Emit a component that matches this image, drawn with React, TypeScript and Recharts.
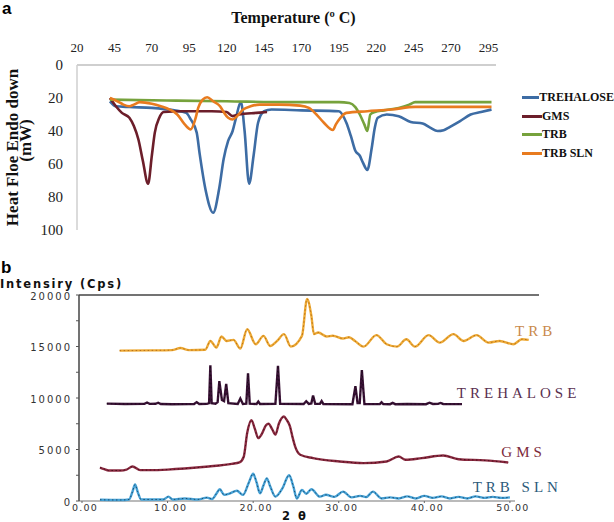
import React from 'react'
import { LineChart, Line, XAxis, YAxis, Legend, Label, ReferenceLine, ReferenceDot } from 'recharts'

// ---- panel a: DSC thermograms (temperature in °C, heat flow in mW, endo down)
const dscTicksX = [20, 45, 70, 95, 120, 145, 170, 195, 220, 245, 270, 295]
const dscTicksY = [0, 20, 40, 60, 80, 100]

const dscTrehalose: [number, number][] = [
  [42, 22], [46, 25], [55, 25.5], [70, 26], [85, 27.5], [93, 29], [96, 33], [100, 41],
  [102, 54], [106, 76], [111, 89.5], [115, 75], [118, 57], [121, 46], [124, 40], [126, 33],
  [129.5, 22.5], [132, 40], [135, 72], [138, 55], [141, 35], [145, 28], [150, 27], [170, 27.5],
  [195, 28], [200, 35], [203, 43], [206, 52], [209, 55], [211, 59], [214, 63.6], [217, 50],
  [219, 38], [221, 32], [227, 30], [235, 31], [243, 34.5], [251, 35.5], [256, 38], [261, 40],
  [265, 39.5], [269, 37.6], [276, 34], [283, 30], [290, 28.5], [297, 27],
]
const dscGms: [number, number][] = [
  [42, 20], [46, 25], [50, 29], [55, 32], [58, 37], [61, 45], [64, 58], [67.5, 72], [70, 55],
  [72, 41], [75, 32], [78, 28.5], [90, 28], [110, 28], [120, 28.5], [124, 31], [128, 30],
  [140, 29], [147, 28.5],
]
const dscTrb: [number, number][] = [
  [42, 21], [80, 21.5], [120, 22], [160, 22.5], [195, 22.5], [202, 23], [206, 25.5], [209, 30],
  [212, 36], [214, 40], [216, 30], [219, 28.5], [225, 27.5], [235, 26], [242, 24], [246, 22.5],
  [270, 22.5], [297, 22.5],
]
const dscTrbSln: [number, number][] = [
  [42, 20], [47, 22], [51, 24], [55, 25], [58, 24], [62, 22.5], [70, 23.5], [76, 25], [82, 27],
  [87, 30], [92, 36], [96, 39], [99, 33], [101, 26], [104, 21], [107, 19.5], [111, 22],
  [115.6, 25], [118, 28.5], [121, 32], [124, 33], [127, 31], [131, 27], [136, 25], [142, 24],
  [155, 24], [169, 24.6], [175, 26], [180, 30], [185, 35], [191, 39.4], [193, 36], [196, 32],
  [200, 29], [214, 28], [230, 27], [246, 25.4], [270, 25.4], [297, 25.4],
]

// ---- panel b: XRD patterns (2θ vs intensity in cps, curves offset vertically)
const xrdTicksX = [0, 10, 20, 30, 40, 50]
const xrdTicksY = [0, 2500, 5000, 7500, 10000, 12500, 15000, 17500, 20000]

const xrdTrb: [number, number][] = [
  [4.4, 14600], [8, 14620], [10.5, 14650], [11.5, 14850], [12.5, 14650], [14.4, 14680],
  [15.0, 15540], [15.7, 14900], [16.3, 15970], [16.9, 15540], [17.7, 15640], [18.5, 14800],
  [19.3, 16680], [20.3, 15220], [21.2, 16030], [22.0, 15050], [22.8, 15540], [23.6, 16200],
  [24.4, 14990], [25.7, 16030], [26.3, 19610], [26.8, 17980], [27.1, 16200], [27.6, 16360],
  [28.6, 15970], [29.3, 16050], [30.5, 15770], [31.2, 15900], [31.9, 15540], [32.9, 14990],
  [34.4, 16100], [35.6, 15220], [36.8, 14990], [37.9, 15700], [38.9, 14990], [40.5, 16100],
  [41.8, 15380], [43.4, 16200], [44.6, 15540], [46.1, 16100], [47.5, 15380], [48.8, 15540],
  [50.4, 15220], [51.4, 15700], [52.2, 15640],
]
const xrdTrehalose: [number, number][] = [
  [2.9, 9450], [5, 9420], [7.3, 9430], [7.6, 9560], [7.9, 9430], [8.6, 9440], [8.9, 9540],
  [9.2, 9420], [10.5, 9400], [12.5, 9410], [13.1, 9420], [13.4, 9600], [13.7, 9420],
  [14.6, 9430], [14.85, 9500], [15.0, 13170], [15.15, 9500], [15.6, 9440], [15.85, 9600],
  [16.05, 11640], [16.35, 9800], [16.6, 9700], [16.85, 11380], [17.1, 9500], [18.2, 9420],
  [18.5, 9950], [18.8, 9420], [19.2, 9450], [19.4, 12390], [19.6, 9450], [20.4, 9420],
  [20.6, 9650], [20.8, 9420], [22.6, 9430], [22.9, 13130], [23.15, 9430], [25.9, 9420],
  [26.2, 9690], [26.5, 9430], [26.8, 9480], [27.0, 10240], [27.25, 9440], [27.8, 9430],
  [28.0, 9700], [28.2, 9420], [31.6, 9400], [31.95, 11150], [32.2, 9500], [32.45, 9500],
  [32.7, 12720], [33.0, 9420], [34.8, 9410], [35.0, 9580], [35.2, 9410], [36.0, 9400],
  [36.3, 9520], [36.6, 9400], [38, 9420], [40.2, 9400], [40.6, 9540], [41, 9420],
  [41.6, 9430], [41.9, 9520], [42.2, 9420], [44.4, 9410],
]
const xrdGms: [number, number][] = [
  [2.1, 3250], [2.6, 3100], [3.1, 2960], [4.5, 2960], [5.2, 3050], [5.9, 3350], [6.8, 3000],
  [8, 3000], [10, 3050], [12, 3150], [14.8, 3350], [17.5, 3610], [18.4, 3750], [18.9, 4300],
  [19.3, 6600], [19.8, 7840], [20.2, 7000], [20.6, 6100], [21.0, 6500], [21.5, 7350],
  [21.8, 7500], [22.2, 7000], [22.6, 6440], [23.0, 7500], [23.6, 8200], [23.9, 7900],
  [24.3, 7250], [24.6, 6200], [24.9, 5300], [25.5, 4490], [27.0, 4160], [30.1, 3840],
  [32.9, 3680], [35.6, 3840], [37.0, 4320], [37.8, 4000], [39.7, 4160], [42.2, 4420],
  [44.0, 4060], [47.1, 3940], [49.8, 3740],
]
const xrdTrbSln: [number, number][] = [
  [2.1, 120], [4.5, 100], [5.5, 150], [5.9, 900], [6.2, 1600], [6.5, 900], [6.9, 150],
  [9.5, 150], [10.1, 420], [10.6, 150], [12, 250], [13.5, 150], [14.6, 330], [15.2, 200],
  [15.7, 700], [16.1, 1140], [16.6, 600], [17.3, 750], [18.1, 1000], [18.8, 590], [19.5, 1800],
  [20.0, 2650], [20.4, 1800], [20.8, 750], [21.2, 1500], [21.6, 2200], [22.0, 1400],
  [22.6, 420], [23.4, 1200], [24.2, 2500], [24.7, 1400], [25.1, 250], [25.7, 1070],
  [26.2, 700], [26.8, 1140], [27.8, 420], [28.5, 600], [29.5, 400], [30.5, 910], [31.5, 350],
  [32.5, 500], [33.2, 380], [34.0, 910], [35.0, 250], [36, 350], [37, 250], [38, 450],
  [39, 250], [40, 500], [41, 300], [42, 450], [43, 250], [44, 400], [45, 250], [46, 450],
  [47, 300], [48, 400], [49, 300], [50, 350],
]

const serif = '"Liberation Serif", "Times New Roman", serif'
const sans = '"DejaVu Sans", Verdana, sans-serif'

const toPoints = (rows: [number, number][]) => rows.map(([x, y]) => ({ x, y }))

const dscSeries = [
  { name: 'TREHALOSE', rows: dscTrehalose, color: '#3d6ca4' },
  { name: 'GMS', rows: dscGms, color: '#6c1e2a' },
  { name: 'TRB', rows: dscTrb, color: '#76a23c' },
  { name: 'TRB SLN', rows: dscTrbSln, color: '#e87b1f' },
]

// scanned traces look like a light line with a darker dotted core
const xrdSeries = [
  { name: 'TRB', rows: xrdTrb, color: '#eeaa35', core: '#b8711a', text: '#c98a4b', tagAt: [50.6, 16000], type: 'monotone' },
  { name: 'TREHALOSE', rows: xrdTrehalose, color: '#3a1236', core: '#1c0a1a', text: '#5a3050', tagAt: [43.8, 10000], type: 'linear' },
  { name: 'GMS', rows: xrdGms, color: '#8a2a40', core: '#4a0f1c', text: '#7d2b3b', tagAt: [49.0, 4320], type: 'monotone' },
  { name: 'TRB SLN', rows: xrdTrbSln, color: '#46a2d6', core: '#1d4e72', text: '#2c5a7a', tagAt: [45.65, 880], type: 'monotone' },
]

const TempTitle = ({ viewBox }: any) => (
  <text x={viewBox.x + viewBox.width / 2 + 7} y={viewBox.y - 12} textAnchor="middle"
    fontFamily={serif} fontWeight="bold" fontSize={16} fill="#111">
    Temperature (º C)
  </text>
)

const HeatFlowLabel = ({ viewBox }: any) => {
  const cy = viewBox.y + viewBox.height / 2
  return (
    <g fontFamily={serif} fontWeight="bold" fontSize={17} fill="#111" textAnchor="middle">
      <text x={18} y={cy} transform={`rotate(-90, 18, ${cy})`}>Heat Floe Endo down</text>
      <text x={31} y={cy - 7} transform={`rotate(-90, 31, ${cy - 7})`}>(mW)</text>
    </g>
  )
}

const DscLegend = () => (
  <div>
    {dscSeries.map(s => (
      <div key={s.name} style={{ display: 'flex', alignItems: 'center', height: 18.7 }}>
        <span style={{ width: 20, height: 3, background: s.color, display: 'inline-block' }} />
        <span style={{ fontFamily: serif, fontWeight: 'bold', fontSize: 12, color: '#111', whiteSpace: 'nowrap' }}>
          {s.name}
        </span>
      </div>
    ))}
  </div>
)

const IntensityLabel = ({ viewBox }: any) => (
  <text x={0} y={viewBox.y - 7} fontFamily={sans} fontWeight="bold" fontSize={11.5}
    letterSpacing={1.8} fill="#111">
    Intensiry (Cps)
  </text>
)

const TwoThetaLabel = ({ viewBox }: any) => (
  <text x={viewBox.x + viewBox.width / 2 - 14} y={viewBox.y + 19} textAnchor="middle"
    fontFamily={sans} fontWeight="bold" fontSize={11.5} letterSpacing={2} fill="#111">
    2 θ
  </text>
)

const SeriesTag = ({ viewBox, value, fill }: any) => (
  <text x={viewBox.x} y={viewBox.y} fontFamily={serif} fontSize={15} letterSpacing={4} fill={fill}>
    {value}
  </text>
)

const panelLetter = {
  position: 'absolute' as const,
  fontFamily: '"Liberation Sans", Arial, sans-serif',
  fontWeight: 'bold',
  fontSize: 17,
  lineHeight: '17px',
}

export default function App() {
  return (
    <div style={{ position: 'absolute', left: 0, top: 0, width: 614, height: 522, background: '#fff' }}>
      <div style={{ ...panelLetter, left: 2, top: 0 }}>a</div>
      <div style={{ position: 'absolute', left: 0, top: 0 }}>
        <LineChart width={614} height={250} margin={{ top: 35, right: 118, bottom: 20, left: 0 }}>
          <XAxis type="number" dataKey="x" orientation="top" domain={[20, 300]} ticks={dscTicksX}
            allowDataOverflow height={30} axisLine={{ stroke: '#cfcfcf', strokeWidth: 2 }}
            tickLine={false} tickSize={0} tickMargin={13}
            tick={{ fontFamily: serif, fontSize: 13, fill: '#222' }}>
            <Label content={TempTitle} />
          </XAxis>
          <YAxis type="number" reversed domain={[0, 100]} ticks={dscTicksY} width={77}
            axisLine={{ stroke: '#cfcfcf', strokeWidth: 1.5 }} tickLine={false} tickSize={0} tickMargin={14}
            tick={{ fontFamily: serif, fontSize: 15, fill: '#222' }}>
            <Label content={HeatFlowLabel} />
          </YAxis>
          <Legend layout="vertical" align="center" verticalAlign="middle" content={DscLegend}
            wrapperStyle={{ left: 522, top: 88, width: 92 }} />
          {dscSeries.map(s => (
            <Line key={s.name} name={s.name} data={toPoints(s.rows)} dataKey="y" type="monotone"
              stroke={s.color} strokeWidth={2.6} dot={false} isAnimationActive={false} />
          ))}
        </LineChart>
      </div>

      <div style={{ ...panelLetter, left: 1, top: 259 }}>b</div>
      <div style={{ position: 'absolute', left: 0, top: 255 }}>
        <LineChart width={614} height={267} margin={{ top: 40, right: 75, bottom: 5, left: 0 }}>
          <XAxis type="number" dataKey="x" domain={[-0.35, 53.4]} ticks={xrdTicksX} allowDataOverflow
            height={16} axisLine={false} tickLine={{ stroke: '#666' }} tickSize={2} tickMargin={1}
            tickFormatter={(v: number) => v.toFixed(2)}
            tick={{ fontFamily: sans, fontSize: 9.5, letterSpacing: 1.2, fill: '#333', dx: 3 }}>
            <Label content={TwoThetaLabel} />
          </XAxis>
          <YAxis type="number" domain={[0, 20000]} ticks={xrdTicksY} width={79}
            axisLine={{ stroke: '#444', strokeWidth: 1.5 }} tickLine={{ stroke: '#555' }} tickSize={3} tickMargin={4}
            tickFormatter={(v: number) => (v % 5000 === 0 ? String(v) : '')}
            tick={{ fontFamily: sans, fontSize: 10, letterSpacing: 2, fill: '#333', dy: 1 }}>
            <Label content={IntensityLabel} />
          </YAxis>
          <ReferenceLine y={20000} stroke="#444" strokeWidth={1.5} />
          <ReferenceLine segment={[{ x: -0.35, y: 0 }, { x: 50.6, y: 0 }]} stroke="#777" strokeWidth={1.2} />
          {xrdSeries.map(s => (
            <Line key={s.name} name={s.name} data={toPoints(s.rows)} dataKey="y" type={s.type as any}
              stroke={s.color} strokeWidth={2.4} dot={false} isAnimationActive={false} />
          ))}
          {xrdSeries.map(s => (
            <Line key={'core-' + s.name} name={s.name + ' core'} data={toPoints(s.rows)} dataKey="y"
              type={s.type as any} stroke={s.core} strokeWidth={1} strokeDasharray="1.5 2.5"
              dot={false} legendType="none" isAnimationActive={false} />
          ))}
          {xrdSeries.map(s => (
            <ReferenceDot key={'tag-' + s.name} x={s.tagAt[0]} y={s.tagAt[1]} r={0}
              label={<SeriesTag value={s.name} fill={s.text} />} />
          ))}
        </LineChart>
      </div>
    </div>
  )
}
